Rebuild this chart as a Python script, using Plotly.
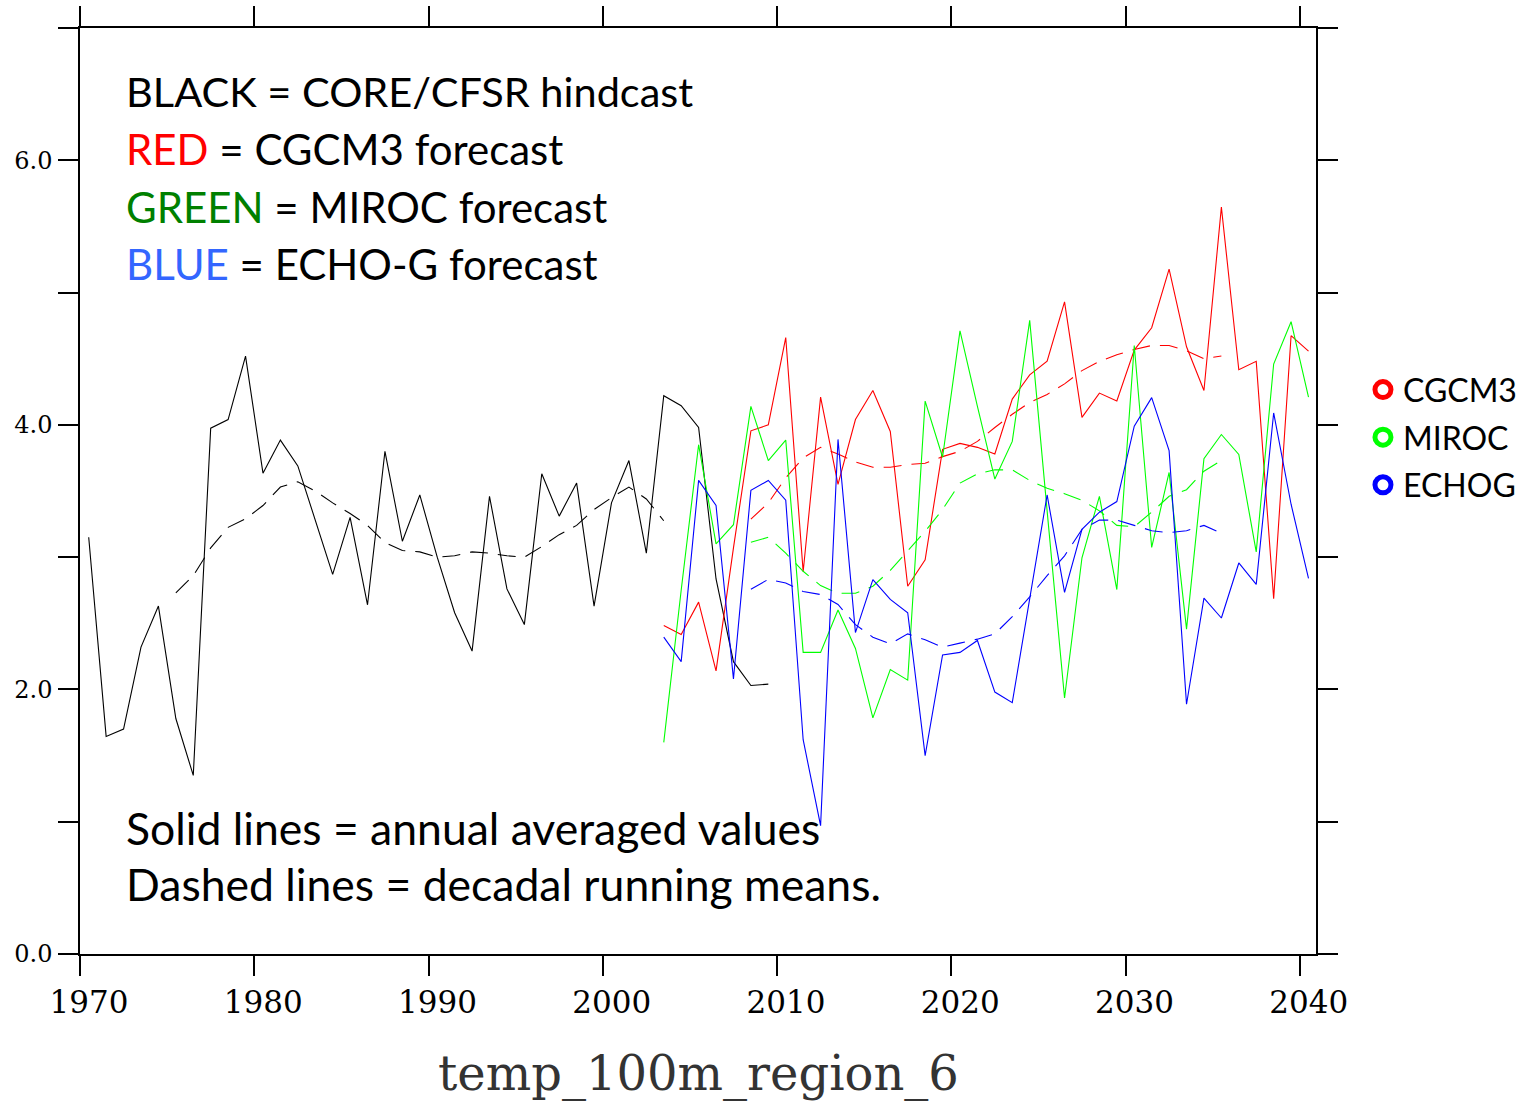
import plotly.graph_objects as go

# ---------------- data ----------------
hind_years = [1970.5 + i for i in range(40)]
hindcast = [3.15, 1.645, 1.70, 2.32, 2.63, 1.78, 1.35, 3.975, 4.04, 4.52,
            3.635, 3.885, 3.69, 3.28, 2.87, 3.30, 2.64, 3.80, 3.12, 3.47,
            3.00, 2.58, 2.29, 3.46, 2.76, 2.49, 3.63, 3.31, 3.56, 2.63,
            3.41, 3.73, 3.03, 4.22, 4.145, 3.98, 2.835, 2.21, 2.03, 2.04]

hind_mean_years = [1975.5 + i for i in range(29)]
hindcast_mean = [2.73, 2.86, 3.07, 3.225, 3.29, 3.39, 3.53, 3.57, 3.50, 3.41,
                 3.33, 3.24, 3.11, 3.05, 3.04, 3.00, 3.01, 3.04, 3.03, 3.01,
                 3.00, 3.08, 3.17, 3.24, 3.36, 3.45, 3.53, 3.44, 3.275]

fc_years = [2003.5 + i for i in range(38)]
cgcm3 = [2.483, 2.415, 2.66, 2.14, 3.07, 3.955, 4.0, 4.66, 2.89, 4.21,
         3.55, 4.04, 4.26, 3.95, 2.78, 2.98, 3.815, 3.86, 3.83, 3.78,
         4.195, 4.378, 4.482, 4.93, 4.057, 4.24, 4.18, 4.565, 4.734, 5.177,
         4.59, 4.26, 5.646, 4.417, 4.48, 2.685, 4.674, 4.557]
miroc = [1.60, 2.75, 3.85, 3.10, 3.245, 4.14, 3.73, 3.885, 2.28, 2.28,
         2.60, 2.31, 1.785, 2.15, 2.07, 4.18, 3.755, 4.71, 4.14, 3.59,
         3.875, 4.79, 3.35, 1.935, 2.995, 3.46, 2.755, 4.60, 3.073, 3.64,
         2.456, 3.745, 3.927, 3.776, 3.04, 4.46, 4.78, 4.21]
echog = [2.395, 2.21, 3.58, 3.39, 2.08, 3.505, 3.58, 3.43, 1.62, 0.97,
         3.89, 2.43, 2.83, 2.68, 2.58, 1.50, 2.26, 2.28, 2.37, 1.98,
         1.90, 2.70, 3.47, 2.734, 3.21, 3.34, 3.42, 3.99, 4.206, 3.805,
         1.888, 2.69, 2.54, 2.956, 2.794, 4.09, 3.40, 2.84]

fc_mean_years = [2008.5 + i for i in range(28)]
cgcm3_mean = [3.287, 3.41, 3.60, 3.75, 3.83, 3.78, 3.72, 3.68, 3.68, 3.70,
              3.71, 3.76, 3.80, 3.875, 3.98, 4.08, 4.17, 4.23, 4.31, 4.41,
              4.48, 4.53, 4.57, 4.60, 4.60, 4.56, 4.50, 4.52]
miroc_mean = [3.112, 3.15, 3.03, 2.893, 2.785, 2.727, 2.727, 2.78, 2.90, 3.05,
              3.195, 3.36, 3.56, 3.63, 3.66, 3.66, 3.58, 3.52, 3.48, 3.43,
              3.35, 3.24, 3.23, 3.34, 3.46, 3.51, 3.65, 3.73]
echog_mean = [2.757, 2.832, 2.805, 2.74, 2.717, 2.642, 2.49, 2.395, 2.345, 2.42,
              2.375, 2.32, 2.35, 2.38, 2.42, 2.55, 2.70, 2.86, 3.01, 3.21,
              3.28, 3.28, 3.24, 3.20, 3.185, 3.20, 3.24, 3.18]

x_ticks = [1970, 1980, 1990, 2000, 2010, 2020, 2030, 2040]
y_ticks = [0, 1, 2, 3, 4, 5, 6, 7]
y_ticktext = ["0.0", "", "2.0", "", "4.0", "", "6.0", ""]

legend_names = ["CGCM3", "MIROC", "ECHOG"]
legend_colors = ["#ff0000", "#00ff00", "#0000ff"]

# ---------------- figure ----------------
fig = go.Figure()
DASH = "18px,10px"
LW = 1.1

fig.add_trace(go.Scatter(x=hind_years, y=hindcast, mode="lines",
                         line=dict(color="black", width=LW), showlegend=False))
fig.add_trace(go.Scatter(x=hind_mean_years, y=hindcast_mean, mode="lines",
                         line=dict(color="black", width=LW, dash=DASH), showlegend=False))

for vals, means, col in [(cgcm3, cgcm3_mean, legend_colors[0]),
                         (miroc, miroc_mean, legend_colors[1]),
                         (echog, echog_mean, legend_colors[2])]:
    fig.add_trace(go.Scatter(x=fc_years, y=vals, mode="lines",
                             line=dict(color=col, width=LW), showlegend=False))
    fig.add_trace(go.Scatter(x=fc_mean_years, y=means, mode="lines",
                             line=dict(color=col, width=LW, dash=DASH), showlegend=False))

# legend-only marker entries
for name, col in zip(legend_names, legend_colors):
    fig.add_trace(go.Scatter(x=[None], y=[None], mode="markers", name=name,
                             legendgroup=name,
                             marker=dict(symbol="circle-open", size=19, color=col,
                                         line=dict(width=6, color=col))))

TXT_FONT = "Lato"
annos = [
    ("BLACK = CORE/CFSR hindcast", 0.932, 41.5),
    ("<span style='color:#ff0000'>RED</span> = CGCM3 forecast", 0.869, 42),
    ("<span style='color:#008000'>GREEN</span> = MIROC forecast", 0.807, 42),
    ("<span style='color:#3366ff'>BLUE</span> = ECHO-G forecast", 0.745, 42),
    ("Solid lines = annual averaged values", 0.137, 44.5),
    ("Dashed lines = decadal running means.", 0.0756, 44.5),
]
for txt, yy, fs in annos:
    fig.add_annotation(x=0.036, y=yy, xref="paper", yref="paper", text=txt,
                       showarrow=False, xanchor="left", yanchor="middle",
                       font=dict(family=TXT_FONT, size=fs, color="black"))

fig.add_annotation(x=0.5, y=-0.128, xref="paper", yref="paper",
                   text="temp_100m_region_6", showarrow=False,
                   xanchor="center", yanchor="middle",
                   font=dict(family="DejaVu Serif", size=48, color="#333333"))

axis_common = dict(showline=True, linecolor="black", linewidth=1.5,
                   ticks="outside", ticklen=20, tickwidth=1.5, tickcolor="black",
                   mirror="allticks", showgrid=False, zeroline=False,
                   automargin=False)

fig.update_layout(
    width=1535, height=1103,
    margin=dict(l=80, r=219, t=28, b=149, autoexpand=False),
    plot_bgcolor="white", paper_bgcolor="white",
    xaxis=dict(range=[1970, 2040.93], tickvals=x_ticks,
               tickfont=dict(family="DejaVu Serif", size=31, color="black"),
               ticklabelshift=9, **axis_common),
    yaxis=dict(range=[0, 7], tickvals=y_ticks, ticktext=y_ticktext,
               tickfont=dict(family="DejaVu Serif", size=24, color="black"),
               ticklabelstandoff=1, **axis_common),
    legend=dict(x=1.038, y=0.639, xanchor="left", yanchor="top",
                font=dict(family=TXT_FONT, size=32, color="black"),
                bgcolor="rgba(0,0,0,0)", tracegroupgap=3),
    showlegend=True,
)

fig.write_html("out.html")
